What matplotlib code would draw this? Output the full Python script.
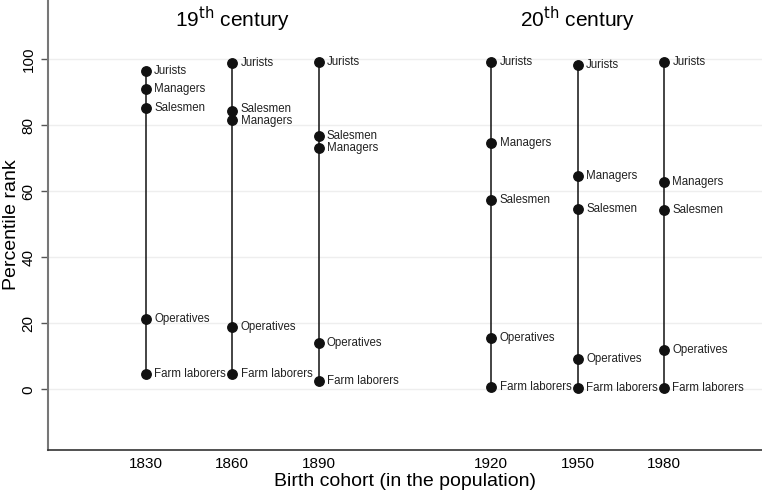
import matplotlib.pyplot as plt

cohorts = ["1830", "1860", "1890", "1920", "1950", "1980"]
positions = [1830, 1860, 1890, 1950, 1980, 2010]  # gap between the two centuries
occupations = ["Jurists", "Managers", "Salesmen", "Operatives", "Farm laborers"]

jurists = [96.5, 99.0, 99.2, 99.1, 98.3, 99.1]
managers = [90.9, 81.5, 73.2, 74.8, 64.8, 62.9]
salesmen = [85.2, 84.3, 76.8, 57.3, 54.6, 54.2]
operatives = [21.3, 18.9, 14.1, 15.5, 9.3, 11.8]
farm_laborers = [4.7, 4.7, 2.4, 0.8, 0.3, 0.3]

series = [jurists, managers, salesmen, operatives, farm_laborers]

# small vertical nudges (in data units) for labels that would overlap
label_nudge = {(1, 2): 0.6, (1, 1): -0.3}

plt.rcParams["font.family"] = ["Liberation Sans", "DejaVu Sans"]

fig = plt.figure(figsize=(7.62, 4.93), dpi=100)
ax = fig.add_axes([48 / 762, 43 / 493, 714 / 762, 450 / 493])

dark = "#111111"
for i, x in enumerate(positions):
    vals = [s[i] for s in series]
    ax.plot([x, x], [min(vals), max(vals)], color=dark, lw=1.1, zorder=2)
    ax.plot([x] * len(vals), vals, "o", color=dark, ms=6.8, zorder=3)
    for j, (name, v) in enumerate(zip(occupations, vals)):
        dy = label_nudge.get((i, j), 0)
        ax.annotate(name, (x, v + dy), xytext=(6, 0), textcoords="offset points",
                    va="center", ha="left", fontsize=8.3, color="#222222")

ax.set_xlim(1796, 2044)
ax.set_ylim(-18.4, 118)
ax.set_xticks(positions)
ax.set_xticklabels(cohorts, fontsize=11)
ax.set_yticks([0, 20, 40, 60, 80, 100])
ax.set_yticklabels(["0", "20", "40", "60", "80", "100"], fontsize=11,
                   rotation=90, va="center")
ax.tick_params(axis="x", length=0, pad=5)
ax.tick_params(axis="y", length=5, width=1, color="#555555", pad=4)

ax.yaxis.grid(True, color="#eeeeee", lw=1)
ax.set_axisbelow(True)

ax.spines["top"].set_visible(False)
ax.spines["right"].set_visible(False)
ax.spines["left"].set_color("#777777")
ax.spines["left"].set_linewidth(1.5)
ax.spines["bottom"].set_color("#333333")
ax.spines["bottom"].set_linewidth(1.2)

ax.set_ylabel("Percentile rank", fontsize=14, va="center")
ax.yaxis.set_label_coords(-36 / 714, 0.5)
ax.set_xlabel("Birth cohort (in the population)", fontsize=14, va="center")
ax.xaxis.set_label_coords(0.5, -31 / 450)

ax.text(1860, 112, "19$^{\\mathrm{th}}$ century", ha="center", va="center", fontsize=15)
ax.text(1980, 112, "20$^{\\mathrm{th}}$ century", ha="center", va="center", fontsize=15)

fig.savefig("out.png", dpi=100)
